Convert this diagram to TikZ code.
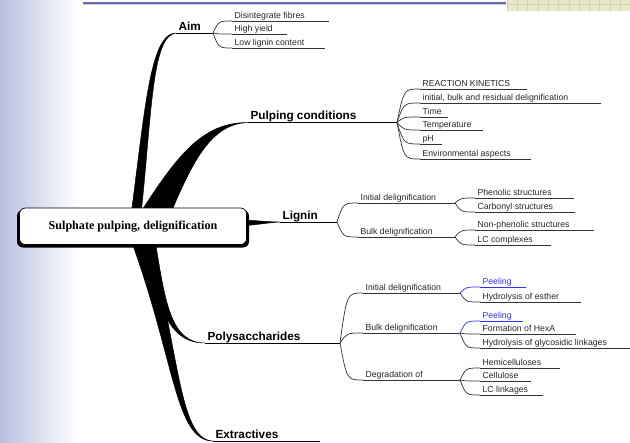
\documentclass[tikz,border=0pt]{standalone}
\usepackage{fontspec}
\setmainfont{Liberation Sans}
\newfontfamily\boxfont{Liberation Serif}
\usetikzlibrary{calc}
\definecolor{sidebar}{RGB}{185,192,224}
\definecolor{topline}{RGB}{104,104,166}
\definecolor{toplight}{RGB}{200,200,226}
\definecolor{gridfill}{RGB}{232,232,204}
\definecolor{gridline}{RGB}{212,212,172}
\definecolor{peelblue}{RGB}{50,50,250}
\tikzset{
  head/.style={anchor=south west, inner xsep=2pt, inner ysep=2pt, text depth=0pt, font=\fontsize{10}{12}\selectfont\bfseries},
  leaf/.style={anchor=south west, inner xsep=2pt, inner ysep=2pt, text depth=0pt, text=black!85, font=\fontsize{7.4}{9}\selectfont},
  uline/.style={draw=black!80, line width=0.6pt},
  hline/.style={draw=black, line width=0.8pt},
  trunk/.style={fill=black, draw=black, line width=0.4pt},
  fan/.style={uline, to path={.. controls ($(\tikztostart |- \tikztotarget)!.3!(\tikztotarget)$) .. (\tikztotarget)}},
  mainbox/.style={draw, fill=white, rounded corners=5pt, line width=0.6pt, minimum width=193pt, minimum height=31pt, font=\boxfont\fontsize{10.3}{12}\selectfont\bfseries}
}
\begin{document}
\begin{tikzpicture}[x=0.85pt, y=-0.85pt]
\useasboundingbox (0,0) rectangle (630,442);
% slide background
\shade[left color=sidebar, right color=white] (0,0) rectangle (78,442);
\draw[topline, line width=1.7pt] (83,2.5) -- (506,2.5);
\draw[toplight, line width=0.8pt] (83,4.5) -- (506,4.5);
\fill[gridfill] (507,0) rectangle (630,11);
\foreach \i in {0,...,11} \draw[gridline, line width=0.5pt] ({507+\i*10.3},0) -- ++(0,11);
\draw[gridline, line width=0.5pt] (507,4) -- (630,4);

% main branches
\node[head] (aim) at (176,33) {Aim};
\draw[hline] (aim.south west) -- ++(37,0) coordinate (aim-e);
\node[head] (pc) at (248,122.5) {Pulping conditions};
\draw[hline] (pc.south west) -- ++(149,0) coordinate (pc-e);
\node[head] (lig) at (280,222) {Lignin};
\draw[hline] (lig.south west) -- ++(57,0) coordinate (lig-e);
\node[head] (ps) at (205,343) {Polysaccharides};
\draw[hline] (ps.south west) -- ++(135,0) coordinate (ps-e);
\node[head] (ex) at (213,441) {Extractives};
\draw[hline] (ex.south west) -- ++(107,0);

\filldraw[trunk] (131,215) .. controls (145,110) and (150,33) .. (aim.south west) .. controls (152,36) and (152,110) .. (141,215) -- cycle;
\filldraw[trunk] (139,215) .. controls (180,150) and (205,122.5) .. (pc.south west) .. controls (212,124) and (194,158) .. (170,215) -- cycle;
\filldraw[trunk] (142,240) .. controls (158,300) and (165,343) .. (ps.south west) .. controls (170,343) and (165,300) .. (155,240) -- cycle;
\filldraw[trunk] (131,240) .. controls (175,360) and (175,441) .. (ex.south west) .. controls (180,440) and (180,360) .. (150,240) -- cycle;
\filldraw[trunk] (244,220) -- (250,220.3) .. controls (262,221) and (270,222) .. (lig.south west) .. controls (270,222.5) and (262,224) .. (250,225.2) -- (244,225.5) -- cycle;

\fill[rounded corners=5pt] (17,210) rectangle (249,247.5);
\node[mainbox] (c) at (133,226.25) {Sulphate pulping, delignification};

% aim
\node[leaf] (df) at (232,21) {Disintegrate fibres};
\draw[uline] (df.south west) -- ++(97,0);
\node[leaf] (hy) at (232,34) {High yield};
\draw[uline] (hy.south west) -- ++(55,0);
\node[leaf] (ll) at (232,48) {Low lignin content};
\draw[uline] (ll.south west) -- ++(93,0);
\foreach \c in {df,hy,ll} \draw[fan] (aim-e) to (\c.south west);

% pulping conditions
\node[leaf] (rk) at (420,89) {REACTION KINETICS};
\draw[uline] (rk.south west) -- ++(107,0);
\node[leaf] (ib) at (420,103) {initial, bulk and residual delignification};
\draw[uline] (ib.south west) -- ++(181,0);
\node[leaf] (ti) at (420,117) {Time};
\draw[uline] (ti.south west) -- ++(28,0);
\node[leaf] (te) at (420,130) {Temperature};
\draw[uline] (te.south west) -- ++(63,0);
\node[leaf] (ph) at (420,144) {pH};
\draw[uline] (ph.south west) -- ++(22,0);
\node[leaf] (en) at (420,159) {Environmental aspects};
\draw[uline] (en.south west) -- ++(111,0);
\foreach \c in {rk,ib,ti,te,ph,en} \draw[fan] (pc-e) to (\c.south west);

% lignin
\node[leaf] (li1) at (358,203) {Initial delignification};
\draw[uline] (li1.south west) -- ++(97,0) coordinate (li1-e);
\node[leaf] (lb1) at (358,237) {Bulk delignification};
\draw[uline] (lb1.south west) -- ++(97,0) coordinate (lb1-e);
\foreach \c in {li1,lb1} \draw[fan] (lig-e) to (\c.south west);

\node[leaf] (phs) at (475,198) {Phenolic structures};
\draw[uline] (phs.south west) -- ++(99,0);
\node[leaf] (cbs) at (475,212) {Carbonyl structures};
\draw[uline] (cbs.south west) -- ++(100,0);
\foreach \c in {phs,cbs} \draw[fan] (li1-e) to (\c.south west);
\node[leaf] (nps) at (475,230) {Non-phenolic structures};
\draw[uline] (nps.south west) -- ++(119,0);
\node[leaf] (lcc) at (475,245) {LC complexes};
\draw[uline] (lcc.south west) -- ++(76,0);
\foreach \c in {nps,lcc} \draw[fan] (lb1-e) to (\c.south west);

% polysaccharides
\node[leaf] (pi) at (363,293) {Initial delignification};
\draw[uline] (pi.south west) -- ++(97,0) coordinate (pi-e);
\node[leaf] (pb) at (363,333) {Bulk delignification};
\draw[uline] (pb.south west) -- ++(97,0) coordinate (pb-e);
\node[leaf] (pd) at (363,380) {Degradation of};
\draw[uline] (pd.south west) -- ++(97,0) coordinate (pd-e);
\foreach \c in {pi,pb,pd} \draw[fan] (ps-e) to (\c.south west);

\node[leaf, text=peelblue] (pe1) at (480,287) {Peeling};
\draw[uline, draw=peelblue] (pe1.south west) -- ++(46,0);
\node[leaf] (hes) at (480,302) {Hydrolysis of esther};
\draw[uline] (hes.south west) -- ++(101,0);
\draw[fan, draw=peelblue] (pi-e) to (pe1.south west);
\draw[fan] (pi-e) to (hes.south west);

\node[leaf, text=peelblue] (pe2) at (480,321) {Peeling};
\draw[uline, draw=peelblue] (pe2.south west) -- ++(43,0);
\node[leaf] (hxa) at (480,334) {Formation of HexA};
\draw[uline] (hxa.south west) -- ++(96,0);
\node[leaf] (hgl) at (480,348) {Hydrolysis of glycosidic linkages};
\draw[uline] (hgl.south west) -- ++(150,0);
\draw[fan, draw=peelblue] (pb-e) to (pe2.south west);
\foreach \c in {hxa,hgl} \draw[fan] (pb-e) to (\c.south west);

\node[leaf] (hcl) at (480,368) {Hemicelluloses};
\draw[uline] (hcl.south west) -- ++(80,0);
\node[leaf] (cel) at (480,381) {Cellulose};
\draw[uline] (cel.south west) -- ++(51,0);
\node[leaf] (lcl) at (480,395) {LC linkages};
\draw[uline] (lcl.south west) -- ++(63,0);
\foreach \c in {hcl,cel,lcl} \draw[fan] (pd-e) to (\c.south west);
\end{tikzpicture}
\end{document}
